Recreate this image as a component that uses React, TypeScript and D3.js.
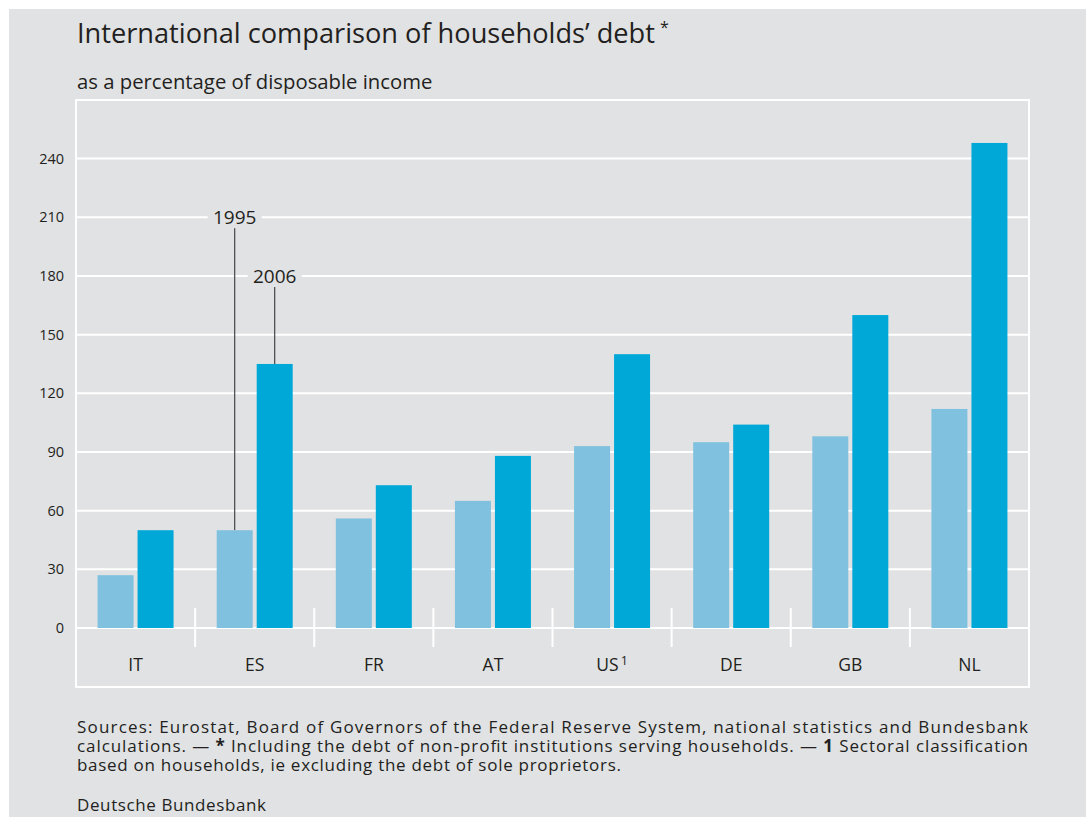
import React from "react";
import * as d3 from "d3";

const categories = ["IT", "ES", "FR", "AT", "US", "DE", "GB", "NL"];
const years = ["1995", "2006"];
const values1995 = [27, 50, 56, 65, 93, 95, 98, 112];
const values2006 = [50, 135, 73, 88, 140, 104, 160, 248];
const yTicks = [0, 30, 60, 90, 120, 150, 180, 210, 240];

const BG = "#e1e2e4";
const LIGHT = "#80c1df";
const DARK = "#00a8d8";
const TEXT = "#231f20";
const FONT = "'Open Sans', 'Noto Sans', sans-serif";

export default function App() {
  const frame = { x0: 76, x1: 1029, y0: 100, y1: 687 };
  const y = d3.scaleLinear().domain([0, 240]).range([628, 158.6]);
  const x = d3.scaleBand<string>().domain(categories).range([frame.x0, frame.x1]).padding(0);
  const xs = d3.scaleBand<string>().domain(years).range([-38, 38]).paddingInner(0.1);
  const series = [values1995, values2006];
  const colors = [LIGHT, DARK];
  const center = (c: string) => (x(c) as number) + x.bandwidth() / 2;

  const esIdx = categories.indexOf("ES");
  const ann = [
    { year: "1995", v: values1995[esIdx], labelY: y(210) },
    { year: "2006", v: values2006[esIdx], labelY: y(180) },
  ];

  return (
    <svg
      width={1086}
      height={817}
      style={{ position: "absolute", left: 0, top: 0 }}
      fontFamily={FONT}
    >
      <rect x={0} y={0} width={1086} height={817} fill="#ffffff" />
      <rect x={9} y={9} width={1077} height={808} fill={BG} />

      {/* Title */}
      <text x={77} y={43} fontSize={27.2} fill={TEXT}>
        International comparison of households’ debt
        <tspan dx={5} dy={-10} fontSize={16}>*</tspan>
      </text>
      <text x={77} y={89} fontSize={20.3} fill={TEXT}>
        as a percentage of disposable income
      </text>

      {/* frame */}
      <rect
        x={frame.x0}
        y={frame.y0}
        width={frame.x1 - frame.x0}
        height={frame.y1 - frame.y0}
        fill="none"
        stroke="#ffffff"
        strokeWidth={2}
      />

      {/* gridlines */}
      {yTicks.map((t) => (
        <line key={t} x1={frame.x0} x2={frame.x1} y1={y(t)} y2={y(t)} stroke="#ffffff" strokeWidth={2} />
      ))}

      {/* category separators */}
      {categories.slice(1).map((c) => (
        <line key={c} x1={x(c) as number} x2={x(c) as number} y1={608} y2={647} stroke="#ffffff" strokeWidth={2} />
      ))}

      {/* y labels */}
      {yTicks.map((t) => (
        <text key={t} x={64} y={y(t)} dy="0.35em" textAnchor="end" fontSize={14.5} fill={TEXT}>
          {t}
        </text>
      ))}

      {/* annotation labels (over gridlines) */}
      {ann.map((a) => {
        const cx = center("ES") + (xs(a.year) as number) + xs.bandwidth() / 2;
        return (
          <g key={a.year}>
            <rect x={cx - 27} y={a.labelY - 8} width={54} height={16} fill={BG} />
            <text x={cx} y={a.labelY} dy="0.36em" textAnchor="middle" fontSize={19} fill={TEXT}>
              {a.year}
            </text>
            <line x1={cx} x2={cx} y1={a.labelY + 11} y2={y(a.v)} stroke="#444" strokeWidth={1.2} />
          </g>
        );
      })}

      {/* bars */}
      {series.map((vals, si) =>
        vals.map((v, i) => (
          <rect
            key={`${si}-${i}`}
            x={center(categories[i]) + (xs(years[si]) as number)}
            y={y(v)}
            width={xs.bandwidth()}
            height={y(0) - y(v)}
            fill={colors[si]}
          />
        ))
      )}

      {/* x labels */}
      {categories.map((c) => (
        <text key={c} x={center(c)} y={665} dy="0.35em" textAnchor="middle" fontSize={17.5} fill={TEXT}>
          {c}
          {c === "US" ? <tspan dx={2} dy={-6} fontSize={12.5}>1</tspan> : null}
        </text>
      ))}

      {/* footnotes */}
      <g fontSize={17} fill={TEXT}>
        <text x={77} y={733} textLength={951} lengthAdjust="spacing">
          Sources: Eurostat, Board of Governors of the Federal Reserve System, national statistics and Bundesbank
        </text>
        <text x={77} y={752} textLength={951} lengthAdjust="spacing">
          calculations. — <tspan fontWeight="bold">*</tspan> Including the debt of non-profit institutions serving households. — <tspan fontWeight="bold">1</tspan> Sectoral classification
        </text>
        <text x={77} y={771} textLength={544} lengthAdjust="spacing">
          based on households, ie excluding the debt of sole proprietors.
        </text>
        <text x={77} y={811} textLength={189} lengthAdjust="spacing">
          Deutsche Bundesbank
        </text>
      </g>
    </svg>
  );
}
